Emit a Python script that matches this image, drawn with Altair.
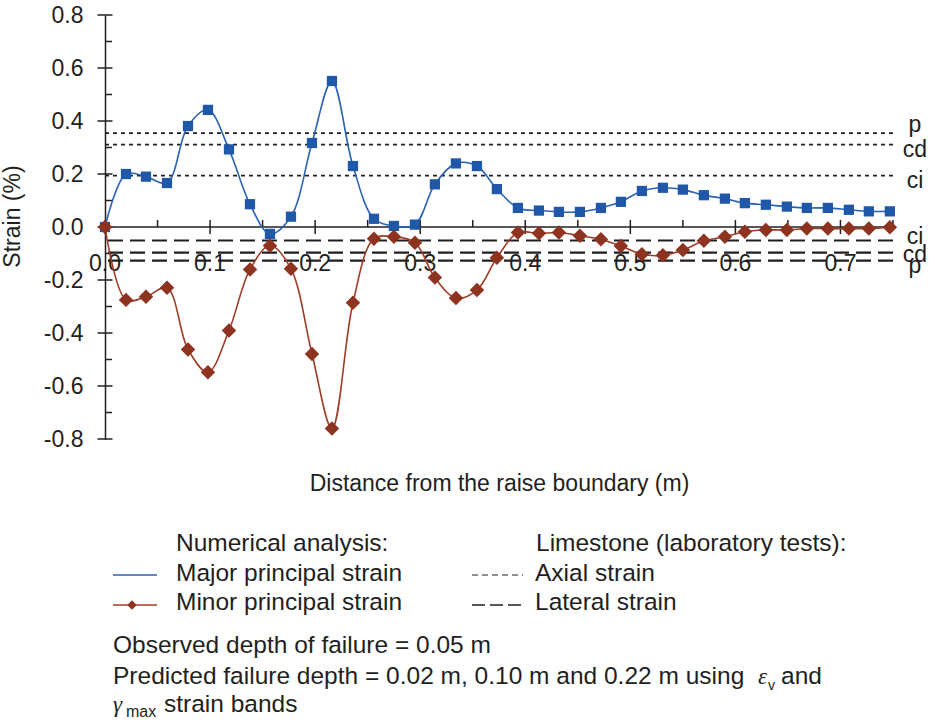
import altair as alt
import pandas as pd

# ---------------- data ----------------
x_dist = [0.0, 0.02, 0.039, 0.059, 0.079, 0.098, 0.118, 0.138, 0.157, 0.177,
          0.197, 0.216, 0.236, 0.256, 0.275, 0.295, 0.314, 0.334, 0.354, 0.373,
          0.393, 0.413, 0.432, 0.452, 0.472, 0.491, 0.511, 0.531, 0.55, 0.57,
          0.59, 0.609, 0.629, 0.649, 0.668, 0.688, 0.708, 0.727, 0.747]
major_strain = [0.0, 0.20, 0.19, 0.166, 0.381, 0.442, 0.293, 0.086, -0.026, 0.039,
                0.317, 0.551, 0.23, 0.031, 0.004, 0.009, 0.161, 0.24, 0.23, 0.143,
                0.072, 0.062, 0.057, 0.057, 0.072, 0.095, 0.136, 0.148, 0.141, 0.12,
                0.107, 0.09, 0.084, 0.077, 0.072, 0.072, 0.065, 0.059, 0.059]
minor_strain = [0.0, -0.275, -0.263, -0.229, -0.462, -0.548, -0.391, -0.16, -0.071, -0.158,
                -0.479, -0.76, -0.286, -0.044, -0.037, -0.059, -0.191, -0.268, -0.238, -0.116,
                -0.021, -0.024, -0.021, -0.033, -0.046, -0.072, -0.103, -0.107, -0.087, -0.052,
                -0.037, -0.018, -0.011, -0.011, -0.006, -0.006, -0.006, -0.006, -0.001]

axial_labels = ["p", "cd", "ci"]
axial_strain = [0.354, 0.311, 0.194]
lateral_labels = ["ci", "cd", "p"]
lateral_strain = [-0.051, -0.097, -0.127]

x_major_ticks = [0.0, 0.1, 0.2, 0.3, 0.4, 0.5, 0.6, 0.7]
x_tick_labels = ["0.0", "0.1", "0.2", "0.3", "0.4", "0.5", "0.6", "0.7"]
x_minor_ticks = [0.05, 0.15, 0.25, 0.35, 0.45, 0.55, 0.65, 0.75]
y_major_ticks = [-0.8, -0.6, -0.4, -0.2, 0.0, 0.2, 0.4, 0.6, 0.8]
y_minor_ticks = [-0.7, -0.5, -0.3, -0.1, 0.1, 0.3, 0.5, 0.7]

# ---------------- styling ----------------
FONT = "Liberation Sans"
MATH = "Liberation Serif"
INK = "#231f20"
BLUE_LINE = "#2a62b5"
BLUE_PT = "#1f58a8"
RED_LINE = "#a03c25"
RED_PT = "#8e3320"
FS = 23
FS_NOTE = 24.5
W, H = 788, 424

xs = alt.Scale(domain=[0, 0.75], nice=False, zero=False)
ys = alt.Scale(domain=[-0.8, 0.8], nice=False, zero=False)

x_axis = alt.Axis(domain=False, ticks=False, labels=False, grid=False,
                  title="Distance from the raise boundary (m)",
                  titleFont=FONT, titleFontSize=FS, titleFontWeight="normal",
                  titleColor=INK, titleY=51, titleBaseline="alphabetic")
y_axis = alt.Axis(values=y_major_ticks, domain=True, domainColor=INK, domainWidth=1.5,
                  ticks=False, tickSize=0, labelPadding=22, grid=False,
                  labelExpr="replace(format(datum.value, '.1f'), '\u2212', '-')",
                  labelFont=FONT, labelFontSize=FS, labelColor=INK,
                  title="Strain (%)", titleFont=FONT, titleFontSize=FS,
                  titleFontWeight="normal", titleColor=INK, titleAngle=270,
                  titleX=-93, titleY=201, titleAlign="center", titleBaseline="middle")

X = alt.X("x:Q", scale=xs, axis=x_axis)
Y = alt.Y("y:Q", scale=ys, axis=y_axis)

one = alt.Data(values=[{"a": 1}])

# x tick labels (drawn under the dashed lines)
xlab_df = pd.DataFrame({"x": x_major_ticks, "y": [0.0] * len(x_major_ticks), "label": x_tick_labels})
xlabels = alt.Chart(xlab_df).mark_text(
    font=FONT, fontSize=FS, color=INK, align="center", baseline="alphabetic", dy=44
).encode(x=X, y=Y, text="label:N")

# reference lines (laboratory tests)
axial_df = pd.DataFrame({"y": axial_strain, "label": axial_labels})
lateral_df = pd.DataFrame({"y": lateral_strain, "label": lateral_labels})
axial_rules = alt.Chart(axial_df).mark_rule(
    color=INK, strokeWidth=1.8, strokeDash=[4, 4]).encode(y=Y)
lateral_rules = alt.Chart(lateral_df).mark_rule(
    color=INK, strokeWidth=2.2, strokeDash=[15, 7]).encode(y=Y)

label_dy = {("axial", "p"): -1, ("axial", "cd"): 12, ("axial", "ci"): 12,
            ("lateral", "ci"): 3, ("lateral", "cd"): 9, ("lateral", "p"): 12}
ref_labels = []
for kind, frame in (("axial", axial_df), ("lateral", lateral_df)):
    for _, row in frame.iterrows():
        sub = frame[frame["label"] == row["label"]]
        ref_labels.append(
            alt.Chart(sub).mark_text(font=FONT, fontSize=FS, color=INK, align="center",
                                     baseline="alphabetic", dy=label_dy[(kind, row["label"])])
            .encode(y=Y, x=alt.value(W + 22), text="label:N"))

# x axis line at zero, and crossing ticks
zero_line = alt.Chart(one).mark_rule(color=INK, strokeWidth=1.5).encode(y=alt.datum(0.0, scale=ys))
xmaj_df = pd.DataFrame({"x": x_major_ticks, "y": [0.0] * len(x_major_ticks)})
xmin_df = pd.DataFrame({"x": x_minor_ticks, "y": [0.0] * len(x_minor_ticks)})
xticks_major = alt.Chart(xmaj_df).mark_tick(orient="vertical", size=14, thickness=1.5, color=INK,
                                            opacity=1).encode(x=X, y=Y)
xticks_minor = alt.Chart(xmin_df).mark_tick(orient="vertical", size=7, thickness=1.5, color=INK,
                                            opacity=1, yOffset=-3.5).encode(x=X, y=Y)
ymaj_df = pd.DataFrame({"x": [0.0] * len(y_major_ticks), "y": y_major_ticks})
ymin_df = pd.DataFrame({"x": [0.0] * len(y_minor_ticks), "y": y_minor_ticks})
yticks_major = alt.Chart(ymaj_df).mark_tick(orient="horizontal", size=15, thickness=1.5, color=INK,
                                            opacity=1).encode(x=X, y=Y)
yticks_minor = alt.Chart(ymin_df).mark_tick(orient="horizontal", size=7, thickness=1.5, color=INK,
                                            opacity=1, xOffset=3.5).encode(x=X, y=Y)

# data series
df = pd.DataFrame({"x": x_dist, "major": major_strain, "minor": minor_strain})
major_line = alt.Chart(df).mark_line(interpolate="catmull-rom", color=BLUE_LINE, strokeWidth=1.6).encode(
    x=X, y=alt.Y("major:Q", scale=ys, axis=y_axis))
major_pts = alt.Chart(df).mark_point(shape="square", filled=True, size=105, color=BLUE_PT, opacity=1).encode(
    x=X, y=alt.Y("major:Q", scale=ys, axis=y_axis))
minor_line = alt.Chart(df).mark_line(interpolate="catmull-rom", color=RED_LINE, strokeWidth=1.6).encode(
    x=X, y=alt.Y("minor:Q", scale=ys, axis=y_axis))
minor_pts = alt.Chart(df).mark_point(shape="diamond", filled=True, size=210, color=RED_PT, opacity=1).encode(
    x=X, y=alt.Y("minor:Q", scale=ys, axis=y_axis))

# legend and notes below the chart (pixel positions relative to plot origin)
def txt(s, x, y, size=FS_NOTE, font=FONT, style="normal"):
    return alt.Chart(one).mark_text(text=s, font=font, fontSize=size, fontStyle=style, color=INK,
                                    align="left", baseline="alphabetic").encode(
        x=alt.value(x), y=alt.value(y))

def sample(x1, x2, y, color, width, dash=None):
    kw = dict(color=color, strokeWidth=width)
    if dash:
        kw["strokeDash"] = dash
    return alt.Chart(one).mark_rule(**kw).encode(x=alt.value(x1), x2=alt.value(x2), y=alt.value(y))

notes = [
    txt("Numerical analysis:", 71, 536),
    txt("Major principal strain", 71, 566),
    txt("Minor principal strain", 71, 595),
    sample(8, 52, 560, BLUE_LINE, 1.6),
    sample(8, 52, 590, RED_LINE, 1.6),
    alt.Chart(one).mark_point(shape="diamond", filled=True, size=90, color=RED_PT, opacity=1).encode(
        x=alt.value(27), y=alt.value(590)),
    txt("Limestone (laboratory tests):", 431, 536),
    txt("Axial strain", 430, 566),
    txt("Lateral strain", 430, 595),
    sample(367, 418, 560, INK, 1.2, [6, 4]),
    sample(367, 418, 590, INK, 1.4, [13, 5]),
    txt("Observed depth of failure = 0.05 m", 8, 638),
    txt("Predicted failure depth = 0.02 m, 0.10 m and 0.22 m using", 8, 669),
    txt("\u03b5", 653, 669, size=23, font=MATH, style="italic"),
    txt("v", 663, 675, size=14),
    txt("and", 676, 669),
    txt("\u03b3", 8, 697, size=23, font=MATH, style="italic"),
    txt("max", 21, 702, size=16),
    txt("strain bands", 59, 697),
]

chart = alt.layer(
    xlabels, axial_rules, lateral_rules, *ref_labels,
    zero_line, xticks_major, xticks_minor, yticks_major, yticks_minor,
    major_line, minor_line, major_pts, minor_pts, *notes
).properties(
    width=W, height=H,
    autosize=alt.AutoSizeParams(type="none"),
    padding={"left": 105, "top": 15, "right": 42, "bottom": 285},
    background="white",
).configure_view(stroke=None)

chart.save("out.html", embed_options={"renderer": "svg", "actions": False})
